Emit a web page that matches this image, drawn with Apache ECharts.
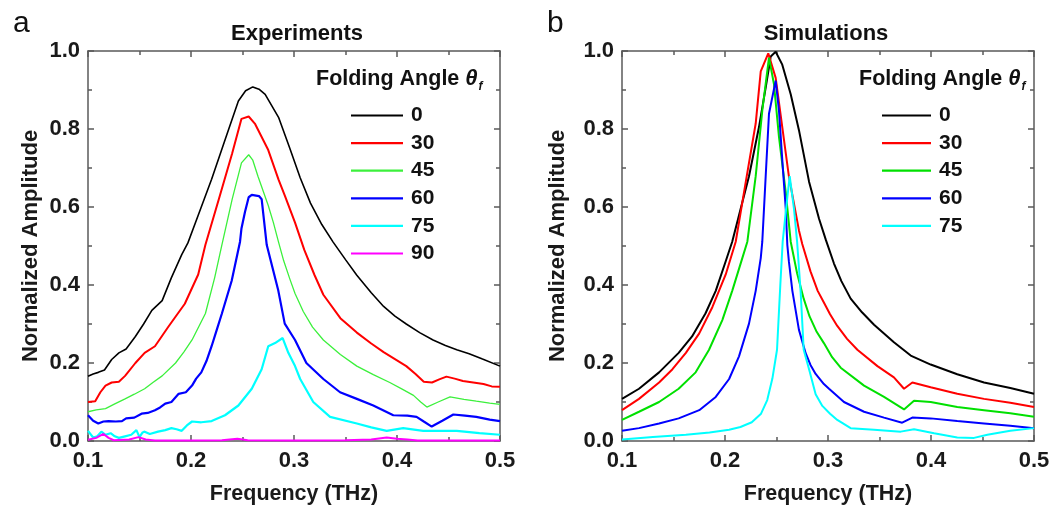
<!DOCTYPE html>
<html>
<head>
<meta charset="utf-8">
<script src="https://cdn.jsdelivr.net/npm/echarts@6/dist/echarts.min.js"></script>
<style>
html,body{margin:0;padding:0;background:#fff;}
#main{width:1054px;height:510px;}
</style>
</head>
<body>
<div id="main"></div>
<script>
// ---------- data ----------
const xTicks = [0.1, 0.2, 0.3, 0.4, 0.5];
const yTicks = [0.0, 0.2, 0.4, 0.6, 0.8, 1.0];
const angles = ['0', '30', '45', '60', '75', '90'];
const simAngles = ['0', '30', '45', '60', '75'];

// Experiments (frequency THz, normalized amplitude)
const exp0 = [[0.100,0.166],[0.105,0.172],[0.110,0.176],[0.116,0.182],[0.123,0.209],[0.130,0.226],[0.137,0.236],[0.146,0.268],[0.154,0.300],[0.162,0.335],[0.172,0.360],[0.181,0.419],[0.191,0.478],[0.197,0.508],[0.207,0.579],[0.220,0.671],[0.233,0.772],[0.246,0.872],[0.253,0.898],[0.260,0.908],[0.266,0.902],[0.272,0.889],[0.285,0.830],[0.296,0.750],[0.306,0.675],[0.316,0.610],[0.327,0.555],[0.338,0.510],[0.350,0.465],[0.361,0.425],[0.375,0.380],[0.387,0.345],[0.398,0.320],[0.409,0.300],[0.422,0.278],[0.435,0.259],[0.447,0.245],[0.458,0.234],[0.470,0.224],[0.483,0.210],[0.500,0.192]];
const exp30 = [[0.100,0.100],[0.107,0.102],[0.112,0.125],[0.117,0.142],[0.123,0.150],[0.130,0.152],[0.136,0.167],[0.146,0.200],[0.155,0.226],[0.165,0.243],[0.178,0.293],[0.194,0.352],[0.207,0.427],[0.214,0.503],[0.227,0.620],[0.240,0.738],[0.249,0.826],[0.256,0.832],[0.262,0.814],[0.275,0.746],[0.285,0.670],[0.291,0.630],[0.301,0.560],[0.310,0.490],[0.320,0.425],[0.3285,0.375],[0.345,0.315],[0.361,0.278],[0.375,0.250],[0.387,0.228],[0.398,0.210],[0.409,0.192],[0.418,0.172],[0.426,0.152],[0.434,0.150],[0.441,0.158],[0.448,0.165],[0.456,0.160],[0.464,0.154],[0.474,0.150],[0.484,0.146],[0.492,0.140],[0.500,0.139]];
const exp45 = [[0.100,0.075],[0.108,0.080],[0.117,0.083],[0.126,0.095],[0.136,0.108],[0.145,0.120],[0.155,0.134],[0.163,0.150],[0.172,0.167],[0.185,0.200],[0.193,0.228],[0.201,0.259],[0.214,0.327],[0.223,0.419],[0.230,0.503],[0.240,0.620],[0.249,0.713],[0.256,0.734],[0.260,0.720],[0.265,0.679],[0.275,0.604],[0.280,0.560],[0.285,0.510],[0.290,0.462],[0.296,0.415],[0.301,0.378],[0.309,0.332],[0.318,0.292],[0.3285,0.259],[0.345,0.222],[0.361,0.192],[0.377,0.170],[0.393,0.150],[0.405,0.133],[0.416,0.117],[0.423,0.100],[0.429,0.087],[0.440,0.100],[0.4515,0.113],[0.465,0.107],[0.477,0.102],[0.490,0.097],[0.500,0.094]];
const exp60 = [[0.100,0.066],[0.105,0.052],[0.110,0.045],[0.115,0.050],[0.120,0.051],[0.127,0.050],[0.133,0.051],[0.137,0.058],[0.145,0.060],[0.152,0.070],[0.158,0.072],[0.165,0.079],[0.170,0.086],[0.175,0.096],[0.181,0.100],[0.188,0.121],[0.195,0.125],[0.201,0.142],[0.205,0.160],[0.210,0.176],[0.215,0.205],[0.220,0.243],[0.225,0.285],[0.230,0.327],[0.2395,0.411],[0.2476,0.511],[0.249,0.545],[0.2524,0.587],[0.256,0.625],[0.259,0.631],[0.266,0.628],[0.2686,0.620],[0.2735,0.503],[0.2848,0.385],[0.291,0.301],[0.301,0.259],[0.312,0.200],[0.3285,0.159],[0.3447,0.125],[0.361,0.108],[0.377,0.091],[0.3964,0.066],[0.410,0.065],[0.419,0.062],[0.426,0.050],[0.4337,0.037],[0.444,0.052],[0.4547,0.068],[0.466,0.065],[0.477,0.062],[0.490,0.055],[0.500,0.051]];
const exp75 = [[0.100,0.026],[0.105,0.009],[0.109,0.012],[0.113,0.024],[0.117,0.016],[0.122,0.020],[0.126,0.012],[0.130,0.008],[0.136,0.012],[0.142,0.016],[0.147,0.028],[0.150,0.010],[0.153,0.022],[0.155,0.024],[0.160,0.018],[0.168,0.024],[0.175,0.028],[0.181,0.033],[0.186,0.030],[0.191,0.026],[0.196,0.040],[0.201,0.050],[0.210,0.048],[0.220,0.051],[0.233,0.066],[0.246,0.091],[0.259,0.134],[0.2686,0.184],[0.275,0.243],[0.2816,0.251],[0.289,0.264],[0.2945,0.226],[0.301,0.192],[0.306,0.159],[0.3187,0.100],[0.335,0.062],[0.361,0.045],[0.375,0.035],[0.390,0.026],[0.406,0.033],[0.4255,0.026],[0.458,0.026],[0.480,0.020],[0.500,0.016]];
const exp90 = [[0.100,0.003],[0.108,0.008],[0.115,0.018],[0.120,0.008],[0.125,0.002],[0.140,0.004],[0.149,0.010],[0.156,0.004],[0.165,0.001],[0.200,0.001],[0.230,0.002],[0.245,0.006],[0.255,0.002],[0.300,0.001],[0.350,0.002],[0.375,0.004],[0.390,0.009],[0.400,0.006],[0.410,0.004],[0.420,0.001],[0.500,0.001]];

// Simulations
const sim0 = [[0.100,0.108],[0.1165,0.134],[0.136,0.176],[0.155,0.226],[0.168,0.268],[0.181,0.327],[0.191,0.385],[0.2007,0.461],[0.207,0.511],[0.2136,0.579],[0.2233,0.679],[0.233,0.805],[0.2395,0.906],[0.2444,0.986],[0.2492,0.998],[0.2556,0.965],[0.2638,0.889],[0.2718,0.797],[0.2816,0.665],[0.2913,0.570],[0.298,0.515],[0.3058,0.455],[0.313,0.410],[0.322,0.365],[0.333,0.330],[0.3447,0.298],[0.364,0.253],[0.3803,0.219],[0.3997,0.196],[0.4255,0.171],[0.4515,0.150],[0.477,0.136],[0.500,0.121]];
const sim30 = [[0.100,0.079],[0.1165,0.108],[0.136,0.150],[0.149,0.184],[0.162,0.226],[0.175,0.276],[0.1877,0.343],[0.2007,0.427],[0.2104,0.511],[0.220,0.662],[0.2298,0.814],[0.2347,0.948],[0.242,0.994],[0.2492,0.931],[0.2556,0.805],[0.262,0.679],[0.2718,0.540],[0.275,0.505],[0.283,0.435],[0.290,0.385],[0.296,0.355],[0.302,0.325],[0.309,0.295],[0.3185,0.262],[0.3285,0.234],[0.348,0.192],[0.364,0.163],[0.3738,0.134],[0.3819,0.150],[0.3997,0.138],[0.4255,0.121],[0.4515,0.108],[0.477,0.098],[0.500,0.087]];
const sim45 = [[0.100,0.054],[0.1165,0.075],[0.136,0.100],[0.155,0.134],[0.1715,0.176],[0.1845,0.234],[0.1974,0.310],[0.207,0.385],[0.2168,0.469],[0.2217,0.511],[0.2298,0.679],[0.2362,0.847],[0.2427,0.983],[0.2476,0.914],[0.2524,0.780],[0.259,0.637],[0.2638,0.511],[0.270,0.430],[0.2764,0.365],[0.282,0.320],[0.289,0.280],[0.296,0.251],[0.304,0.215],[0.3123,0.188],[0.335,0.142],[0.3544,0.113],[0.3738,0.081],[0.3835,0.103],[0.3997,0.100],[0.4255,0.087],[0.4515,0.079],[0.477,0.071],[0.500,0.062]];
const sim60 = [[0.100,0.026],[0.1165,0.033],[0.136,0.045],[0.155,0.058],[0.175,0.079],[0.191,0.113],[0.204,0.159],[0.2136,0.217],[0.2233,0.301],[0.2298,0.385],[0.2347,0.469],[0.2362,0.511],[0.2395,0.679],[0.2427,0.839],[0.2492,0.924],[0.2524,0.847],[0.2556,0.721],[0.259,0.595],[0.2605,0.503],[0.262,0.461],[0.2654,0.385],[0.2718,0.285],[0.2783,0.225],[0.283,0.195],[0.288,0.172],[0.296,0.146],[0.301,0.134],[0.3155,0.100],[0.335,0.075],[0.3544,0.060],[0.372,0.047],[0.3819,0.060],[0.3997,0.058],[0.4255,0.051],[0.4515,0.045],[0.477,0.039],[0.500,0.033]];
const sim75 = [[0.100,0.004],[0.130,0.010],[0.162,0.016],[0.185,0.022],[0.204,0.029],[0.215,0.036],[0.226,0.048],[0.235,0.070],[0.241,0.105],[0.246,0.160],[0.2505,0.234],[0.2537,0.400],[0.256,0.511],[0.2595,0.600],[0.2628,0.679],[0.267,0.595],[0.270,0.511],[0.2735,0.380],[0.2764,0.234],[0.282,0.180],[0.288,0.120],[0.2945,0.090],[0.302,0.070],[0.309,0.054],[0.322,0.033],[0.3447,0.029],[0.3706,0.024],[0.3835,0.030],[0.403,0.020],[0.4255,0.009],[0.4418,0.008],[0.4547,0.016],[0.477,0.026],[0.500,0.033]];

const expSeries = [exp0, exp30, exp45, exp60, exp75, exp90];
const simSeries = [sim0, sim30, sim45, sim60, sim75];
const expColors = ['#000000', '#ff0000', '#3cf03c', '#0000ff', '#00ffff', '#ff00ff'];
const simColors = ['#000000', '#ff0000', '#00e000', '#0000ff', '#00ffff'];
const expWidths = [1.6, 2, 1.3, 2.2, 2.2, 2];
const simWidths = [2, 2, 2, 2, 2];

// ---------- chart ----------
const FONT = '"Liberation Sans", Arial, Helvetica, sans-serif';
const frame = { color: '#5a5a5a', width: 1.5 };
const fmt = v => Number(v).toFixed(1);

function xAx(gi, pos) {
  const main = pos === 'bottom';
  return {
    gridIndex: gi, type: 'value', position: pos,
    min: xTicks[0], max: xTicks[xTicks.length - 1], interval: 0.1,
    axisLine: { show: true, onZero: false, lineStyle: frame },
    axisTick: { show: true, inside: true, length: 6, lineStyle: frame },
    minorTick: { show: true, splitNumber: 2, length: 4, lineStyle: frame },
    splitLine: { show: false }, minorSplitLine: { show: false },
    axisLabel: { show: main, formatter: fmt, fontFamily: FONT, fontSize: 22, fontWeight: 'bold', color: '#1a1a1a', margin: 9 },
    name: main ? 'Frequency (THz)' : '', nameLocation: 'middle', nameGap: 42,
    nameTextStyle: { fontFamily: FONT, fontSize: 21.5, fontWeight: 'bold', color: '#1a1a1a' }
  };
}
function yAx(gi, pos, gap) {
  const main = pos === 'left';
  return {
    gridIndex: gi, type: 'value', position: pos,
    min: yTicks[0], max: yTicks[yTicks.length - 1], interval: 0.2,
    axisLine: { show: true, onZero: false, lineStyle: frame },
    axisTick: { show: true, inside: true, length: 6, lineStyle: frame },
    minorTick: { show: true, splitNumber: 2, length: 4, lineStyle: frame },
    splitLine: { show: false }, minorSplitLine: { show: false },
    axisLabel: { show: main, formatter: fmt, fontFamily: FONT, fontSize: 22, fontWeight: 'bold', color: '#1a1a1a', margin: 8 },
    name: main ? 'Normalized Amplitude' : '', nameLocation: 'middle', nameGap: gap,
    nameTextStyle: { fontFamily: FONT, fontSize: 22, fontWeight: 'bold', color: '#1a1a1a' }
  };
}

const series = [];
expSeries.forEach((d, i) => series.push({
  name: angles[i], type: 'line', xAxisIndex: 0, yAxisIndex: 0, data: d,
  showSymbol: false, symbol: 'none', color: expColors[i],
  lineStyle: { width: expWidths[i], color: expColors[i] }, animation: false, z: 2 + i
}));
simSeries.forEach((d, i) => series.push({
  name: simAngles[i], type: 'line', xAxisIndex: 2, yAxisIndex: 2, data: d,
  showSymbol: false, symbol: 'none', color: simColors[i],
  lineStyle: { width: simWidths[i], color: simColors[i] }, animation: false, z: 2 + i
}));

const legendBase = {
  orient: 'vertical', padding: 0, itemHeight: 20, itemGap: 6.6, selectedMode: false,
  itemStyle: { borderWidth: 0 },
  textStyle: { fontFamily: FONT, fontSize: 21, fontWeight: 'bold', color: '#111', padding: [0, 0, 0, 3], lineHeight: 20 }
};

const titleRich = {
  t: { fontFamily: FONT, fontSize: 22, fontStyle: 'italic', fontWeight: 'bold', fill: '#111' },
  s: { fontFamily: FONT, fontSize: 12, fontStyle: 'italic', fontWeight: 'bold', fill: '#111', padding: [16, 0, 0, 1] }
};
function txt(x, y, text, size, weight, align) {
  return { type: 'text', x: x, y: y, silent: true,
    style: { text: text, fontFamily: FONT, fontSize: size, fontWeight: weight, fill: '#111', align: align, verticalAlign: 'middle', rich: titleRich } };
}

const option = {
  backgroundColor: '#fff',
  animation: false,
  grid: [
    { left: 88, top: 51, width: 412, height: 397 },
    { left: 622, top: 51, width: 412, height: 397 }
  ],
  xAxis: [xAx(0, 'bottom'), xAx(0, 'top'), xAx(1, 'bottom'), xAx(1, 'top')],
  yAxis: [yAx(0, 'left', 46), yAx(0, 'right', 0), yAx(1, 'left', 53), yAx(1, 'right', 0)],
  legend: [
    Object.assign({}, legendBase, { left: 351, top: 105, itemWidth: 52,
      icon: 'path://M0,0L52,0L52,2.2L0,2.2Z', data: angles }),
    Object.assign({}, legendBase, { left: 882, top: 105, itemWidth: 49,
      icon: 'path://M0,0L49,0L49,2.2L0,2.2Z',
      data: simAngles.map((n, i) => ({ name: n, itemStyle: { color: simColors[i] } })) })
  ],
  graphic: [
    txt(13, 24, 'a', 30, 'normal', 'left'),
    txt(547, 24, 'b', 30, 'normal', 'left'),
    txt(297, 34, 'Experiments', 22, 'bold', 'center'),
    txt(826, 34, 'Simulations', 22, 'bold', 'center'),
    txt(316, 79, 'Folding Angle {t|θ}{s|f}', 21.5, 'bold', 'left'),
    txt(859, 79, 'Folding Angle {t|θ}{s|f}', 21.5, 'bold', 'left')
  ],
  series: series
};

const chart = echarts.init(document.getElementById('main'), null, { renderer: 'canvas' });
chart.setOption(option);
</script>
</body>
</html>
